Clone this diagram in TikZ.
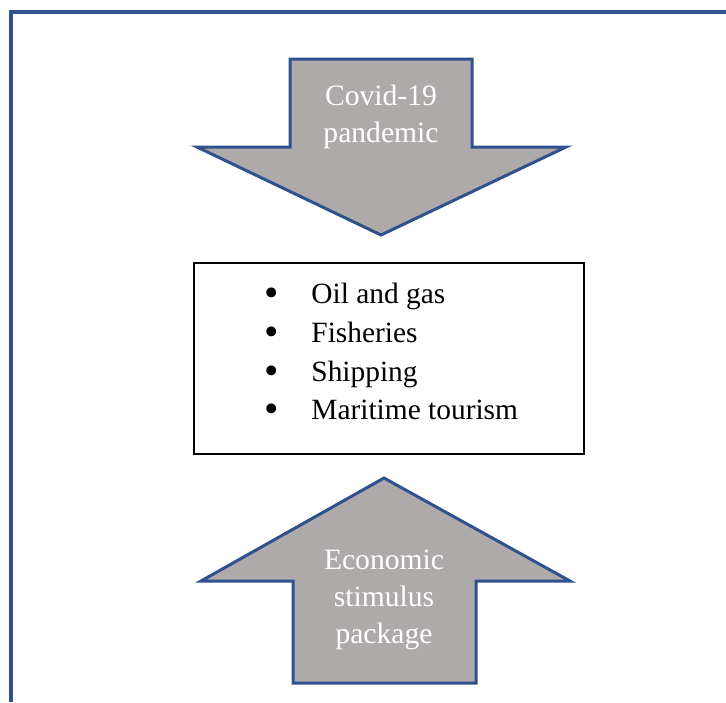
\documentclass[tikz,border=0pt]{standalone}
\usepackage{fontspec}
\setmainfont{Liberation Serif}
\usetikzlibrary{positioning}
\definecolor{shapeblue}{HTML}{2F528F}
\definecolor{shapegray}{HTML}{AEAAAA}
\newcommand{\bulletmark}{\makebox[23.5pt][l]{\raisebox{-1.5pt}{\scalebox{1.4}{\textbullet}}}}

\begin{document}
\begin{tikzpicture}[x=0.5pt,y=-0.5pt,
    bigarrow/.style={draw=shapeblue,fill=shapegray,line width=1.5pt,line join=miter},
    arrowtext/.style={text=white,align=center,inner sep=0pt,font=\fontsize{14.8}{18.6}\selectfont},
    listbox/.style={draw=black,line width=0.7pt,minimum width=195pt,minimum height=95.5pt,inner sep=0pt},
    listtext/.style={align=left,inner sep=0pt,font=\fontsize{14.7}{19.4}\selectfont}]
    \useasboundingbox (0,0) rectangle (726,702);
    % 外框只露出上边和左边
    \draw[shapeblue,line width=1.7pt] (11,702) -- (11,12) -- (726,12);
    \draw[bigarrow] (290,59) -- (472,59) -- (472,147) -- (566,147) -- (381,235) -- (197,147) -- (290,147) -- cycle;
    \node[arrowtext] (covid) at (381,117) {Covid-19\\pandemic};
    \node[listbox] (sectors) at (389,358.5) {};
    \node[listtext,anchor=west] (items) at (264,353) {\bulletmark Oil and gas\\
        \bulletmark Fisheries\\
        \bulletmark Shipping\\
        \bulletmark Maritime tourism};
    \draw[bigarrow] (293,683) -- (476,683) -- (476,581) -- (570,581) -- (384,478) -- (201,581) -- (293,581) -- cycle;
    \node[arrowtext] (stimulus) at (384,600) {Economic\\stimulus\\package};
\end{tikzpicture}
\end{document}
